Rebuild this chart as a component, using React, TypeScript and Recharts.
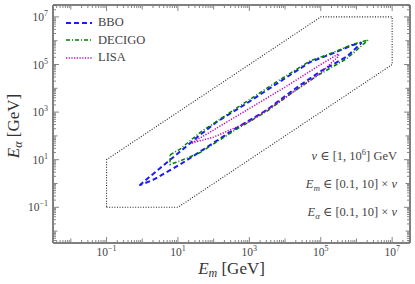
import React from 'react';
import { ComposedChart, Line, XAxis, YAxis, Legend, Customized } from 'recharts';

const FONT = "'Liberation Serif', 'DejaVu Serif', serif";

// Boundary of allowed region
const hexX = [0.1, 10, 1e7, 1e7, 1e5, 0.1, 0.1];
const hexY = [0.1, 0.1, 1e5, 1e7, 1e7, 10, 0.1];

// BBO closed contour
const bboX = [0.83, 3.2, 11.5, 42, 126, 850, 5900, 50000, 219000, 794000, 1.41e6, 537000, 95500, 17000, 3090, 355, 42, 11.5, 2.0, 0.83];
const bboY = [0.83, 4.5, 22, 112, 400, 2340, 15800, 126000, 295000, 661000, 8.3e5, 214000, 50100, 8500, 1230, 178, 22, 6.3, 1.41, 0.83];

// DECIGO closed contour
const decX = [6.0, 11.5, 42, 850, 5900, 50000, 219000, 794000, 2.14e6, 537000, 95500, 17000, 3090, 355, 42, 11.5, 6.0, 6.0];
const decY = [15.8, 28, 141, 2820, 19000, 141000, 316000, 708000, 1.07e6, 178000, 39800, 7080, 1070, 158, 20, 8.9, 6.3, 15.8];

// LISA closed contour
const lisaX = [24, 100, 1000, 10000, 100000, 316000, 316000, 100000, 10000, 1000, 100, 24];
const lisaY = [50, 178, 1410, 11200, 100000, 282000, 224000, 44700, 3980, 398, 89, 50];

const majorTicks = [1e-1, 1e1, 1e3, 1e5, 1e7];
const labeledExps = [-1, 1, 3, 5, 7];
const domainLog = [10 ** -2.5, 10 ** 7.5];

const zip = (xs: number[], ys: number[]) => xs.map((x, i) => ({ x, y: ys[i] }));
const hexData = zip(hexX, hexY);
const bboData = zip(bboX, bboY);
const decData = zip(decX, decY);
const lisaData = zip(lisaX, lisaY);

const allTicks: number[] = [];
for (let e = -3; e <= 7; e++) {
  for (let m = 1; m <= 9; m++) {
    const v = m * Math.pow(10, e);
    if (v >= domainLog[0] && v <= domainLog[1]) allTicks.push(v);
  }
}

const tickInfo = (v: number) => {
  const l = Math.log10(v);
  const e = Math.round(l);
  const isDecade = Math.abs(l - e) < 1e-6;
  const labeled = isDecade && labeledExps.includes(e);
  return { e, isDecade, labeled };
};
const expStr = (e: number) => (e < 0 ? '\u2212' + -e : String(e));
const TICK_COLOR = '#666';
const LABEL_COLOR = '#444';

const BottomTick = (props: any) => {
  const { x, y, payload } = props;
  const { e, labeled, isDecade } = tickInfo(payload.value);
  const len = labeled ? 5 : isDecade ? 3.5 : 2;
  return (
    <g>
      <line x1={x} x2={x} y1={y - 1} y2={y - 1 - len} stroke={TICK_COLOR} strokeWidth={0.8} />
      {labeled && (
        <text x={x} y={y + 13} textAnchor="middle" fontSize={11.5} fill={LABEL_COLOR} fontFamily={FONT}>
          10<tspan dy={-5} fontSize={8}>{expStr(e)}</tspan>
        </text>
      )}
    </g>
  );
};
const TopTick = (props: any) => {
  const { x, y, payload } = props;
  const { labeled, isDecade } = tickInfo(payload.value);
  const len = labeled ? 5 : isDecade ? 3.5 : 2;
  return <line x1={x} x2={x} y1={y + 1} y2={y + 1 + len} stroke={TICK_COLOR} strokeWidth={0.8} />;
};
const LeftTick = (props: any) => {
  const { x, y, payload } = props;
  const { e, labeled, isDecade } = tickInfo(payload.value);
  const len = labeled ? 5 : isDecade ? 3.5 : 2;
  return (
    <g>
      <line x1={x + 1} x2={x + 1 + len} y1={y} y2={y} stroke={TICK_COLOR} strokeWidth={0.8} />
      {labeled && (
        <text x={x - 5} y={y + 4} textAnchor="end" fontSize={11.5} fill={LABEL_COLOR} fontFamily={FONT}>
          10<tspan dy={-5} fontSize={8}>{expStr(e)}</tspan>
        </text>
      )}
    </g>
  );
};
const RightTick = (props: any) => {
  const { x, y, payload } = props;
  const { labeled, isDecade } = tickInfo(payload.value);
  const len = labeled ? 5 : isDecade ? 3.5 : 2;
  return <line x1={x - 1} x2={x - 1 - len} y1={y} y2={y} stroke={TICK_COLOR} strokeWidth={0.8} />;
};

const XLabel = (props: any) => {
  const { viewBox } = props;
  const cx = viewBox.x + viewBox.width / 2;
  return (
    <text x={cx} y={viewBox.y + 31} textAnchor="middle" fontSize={17} fill="#333" fontFamily={FONT}>
      <tspan fontStyle="italic">E</tspan>
      <tspan fontStyle="italic" fontSize={12} dy={3}>m</tspan>
      <tspan dy={-3}> [GeV]</tspan>
    </text>
  );
};
const YLabel = (props: any) => {
  const { viewBox } = props;
  const cy = viewBox.y + viewBox.height / 2 + 2;
  const x = 19;
  return (
    <text x={x} y={cy} transform={`rotate(-90, ${x}, ${cy})`} textAnchor="middle" fontSize={17} fill="#333" fontFamily={FONT}>
      <tspan fontStyle="italic">E</tspan>
      <tspan fontStyle="italic" fontSize={12} dy={3}>{'\u03b1'}</tspan>
      <tspan dy={-3}> [GeV]</tspan>
    </text>
  );
};

const series = [
  { name: 'BBO', color: '#1a1aff', dash: '5 3', width: 2 },
  { name: 'DECIGO', color: '#008000', dash: '4 2 1 2', width: 1.5 },
  { name: 'LISA', color: '#bf00bf', dash: '1.2 1.5', width: 1.5 },
];

const LegendContent = () => (
  <div style={{ fontFamily: FONT, fontSize: 12.5, color: LABEL_COLOR }}>
    {series.map((s) => (
      <div key={s.name} style={{ display: 'flex', alignItems: 'center', height: 17.5 }}>
        <svg width={33} height={10} style={{ display: 'block' }}>
          <line x1={1} x2={27} y1={5} y2={5} stroke={s.color} strokeWidth={s.width} strokeDasharray={s.dash} />
        </svg>
        <span>{s.name}</span>
      </div>
    ))}
  </div>
);

const Annotations = () => (
  <g fontFamily={FONT} fontSize={12.5} fill={LABEL_COLOR}>
    <text x={397} y={160} textAnchor="end">
      <tspan fontStyle="italic">v</tspan>
      <tspan> {'\u2208'} [1, 10</tspan>
      <tspan dy={-5} fontSize={8.5}>6</tspan>
      <tspan dy={5}>] GeV</tspan>
    </text>
    <text x={397} y={188} textAnchor="end">
      <tspan fontStyle="italic">E</tspan>
      <tspan fontStyle="italic" fontSize={9} dy={2.5}>m</tspan>
      <tspan dy={-2.5}> {'\u2208'} [0.1, 10] {'\u00d7'} </tspan>
      <tspan fontStyle="italic">v</tspan>
    </text>
    <text x={397} y={216} textAnchor="end">
      <tspan fontStyle="italic">E</tspan>
      <tspan fontStyle="italic" fontSize={9} dy={2.5}>{'\u03b1'}</tspan>
      <tspan dy={-2.5}> {'\u2208'} [0.1, 10] {'\u00d7'} </tspan>
      <tspan fontStyle="italic">v</tspan>
    </text>
  </g>
);

export default function App() {
  const axisLine = { stroke: '#808080', strokeWidth: 2 };
  return (
    <div style={{ position: 'absolute', left: 0, top: 0, width: 415, height: 284, background: '#fff' }}>
      <ComposedChart width={415} height={284} margin={{ top: 0, right: 0, bottom: 0, left: 0 }}>
        <XAxis xAxisId="b" type="number" dataKey="x" scale="log" domain={domainLog} allowDataOverflow
          ticks={allTicks} interval={0} tick={<BottomTick />} tickLine={false} tickSize={0} tickMargin={0}
          height={41} axisLine={axisLine} label={{ content: XLabel }} />
        <XAxis xAxisId="t" orientation="top" type="number" dataKey="x" scale="log" domain={domainLog} allowDataOverflow
          ticks={allTicks} interval={0} tick={<TopTick />} tickLine={false} tickSize={0} tickMargin={0}
          height={5} axisLine={axisLine} />
        <YAxis yAxisId="l" type="number" dataKey="y" scale="log" domain={domainLog} allowDataOverflow
          ticks={allTicks} interval={0} tick={<LeftTick />} tickLine={false} tickSize={0} tickMargin={0}
          width={53} axisLine={axisLine} label={{ content: YLabel }} />
        <YAxis yAxisId="r" orientation="right" type="number" dataKey="y" scale="log" domain={domainLog} allowDataOverflow
          ticks={allTicks} interval={0} tick={<RightTick />} tickLine={false} tickSize={0} tickMargin={0}
          width={5} axisLine={axisLine} />
        <Line xAxisId="b" yAxisId="l" data={hexData} dataKey="y" type="linear" stroke="#222" strokeWidth={1.1}
          strokeDasharray="1 1.6" dot={false} isAnimationActive={false} legendType="none" />
        <Line xAxisId="b" yAxisId="l" data={bboData} dataKey="y" name="BBO" type="linear" stroke={series[0].color}
          strokeWidth={series[0].width} strokeDasharray={series[0].dash} dot={false} isAnimationActive={false} />
        <Line xAxisId="b" yAxisId="l" data={decData} dataKey="y" name="DECIGO" type="linear" stroke={series[1].color}
          strokeWidth={series[1].width} strokeDasharray={series[1].dash} dot={false} isAnimationActive={false} />
        <Line xAxisId="b" yAxisId="l" data={lisaData} dataKey="y" name="LISA" type="linear" stroke={series[2].color}
          strokeWidth={series[2].width} strokeDasharray={series[2].dash} dot={false} isAnimationActive={false} />
        <Legend content={<LegendContent />} layout="horizontal" verticalAlign="middle" align="center"
          wrapperStyle={{ left: 65, top: 14, width: 'auto', height: 'auto' }} />
        <Customized component={<Annotations />} />
      </ComposedChart>
    </div>
  );
}
